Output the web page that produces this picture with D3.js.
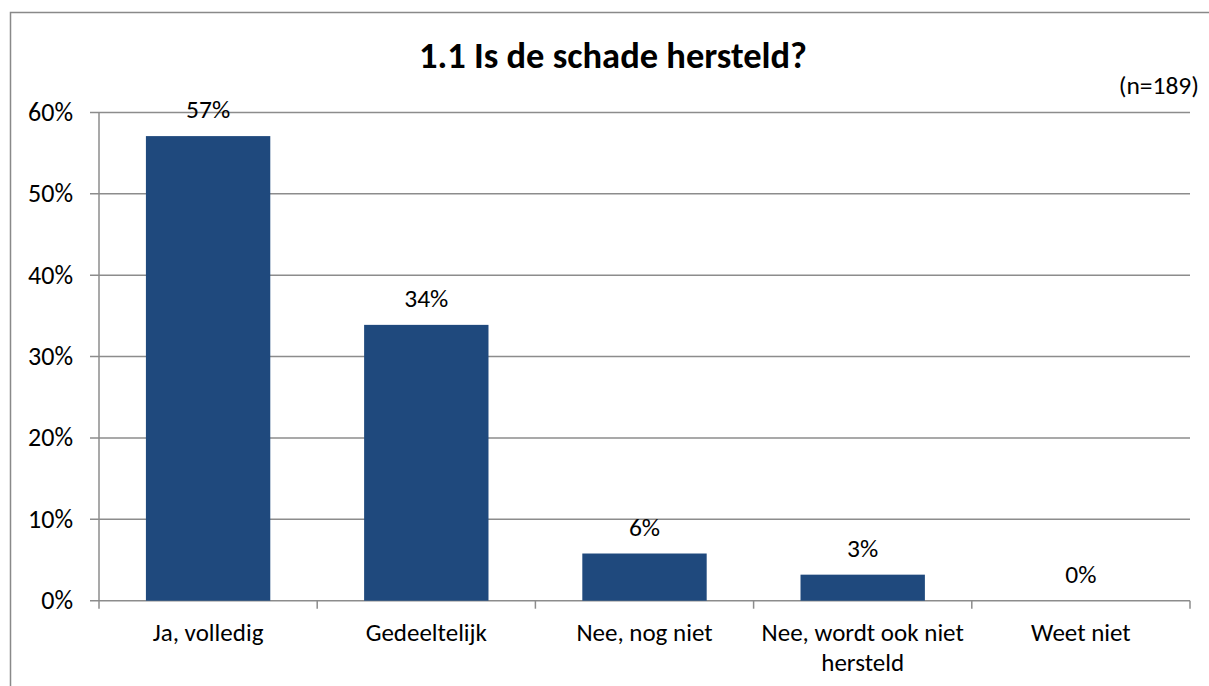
<!DOCTYPE html>
<html>
<head>
<meta charset="utf-8">
<script src="https://cdn.jsdelivr.net/npm/d3@7"></script>
<style>
  body { margin: 0; background: #fff; }
  text { font-family: Calibri, Carlito, 'Liberation Sans', Arial, sans-serif; fill: #000; }
</style>
</head>
<body>
<div id="viz"></div>
<script>
// data
const categories = ['Ja, volledig', 'Gedeeltelijk', 'Nee, nog niet', 'Nee, wordt ook niet hersteld', 'Weet niet']
const values = [57.1, 33.9, 5.8, 3.2, 0]
const labels = ['57%', '34%', '6%', '3%', '0%']
const yTicks = [0, 10, 20, 30, 40, 50, 60]

const chartTitle = '1.1 Is de schade hersteld?'
const note = '(n=189)'

let width = 1209,
    height = 686

let margin = { top: 112.5, right: 19, bottom: 85.3, left: 99 }

let svg = d3.select('#viz')
            .append('svg')
            .attr('width', width)
            .attr('height', height)

// outer chart border (left + top visible)
svg.append('path')
   .attr('d', 'M10.5,' + height + ' V12.5 H' + width)
   .style('fill', 'none')
   .style('stroke', '#898989')
   .style('stroke-width', 1.5)

let yScale = d3.scaleLinear()
               .domain([0, 60])
               .range([height - margin.bottom, margin.top])

let xScale = d3.scaleBand()
               .domain(categories)
               .range([margin.left, width - margin.right])
               .paddingInner(0.43)
               .paddingOuter(0.215)

// gridlines
svg.append('g')
   .selectAll('line')
   .data(yTicks)
   .enter()
     .append('line')
     .attr('x1', margin.left - 9)
     .attr('x2', width - margin.right)
     .attr('y1', d => yScale(d))
     .attr('y2', d => yScale(d))
     .style('stroke', '#8c8c8c')
     .style('stroke-width', 1.5)

// y axis line
svg.append('line')
   .attr('x1', margin.left)
   .attr('x2', margin.left)
   .attr('y1', yScale(60))
   .attr('y2', yScale(0))
   .style('stroke', '#8c8c8c')
   .style('stroke-width', 1.5)

// y tick labels
svg.append('g')
   .selectAll('text')
   .data(yTicks)
   .enter()
     .append('text')
     .attr('x', 73)
     .attr('y', d => yScale(d) + 8.5)
     .attr('text-anchor', 'end')
     .style('font-size', '26px')
     .text(d => d + '%')

// x category ticks
let edges = d3.range(categories.length + 1).map(i => margin.left + i * (width - margin.right - margin.left) / categories.length)
svg.append('g')
   .selectAll('line')
   .data(edges)
   .enter()
     .append('line')
     .attr('x1', d => d)
     .attr('x2', d => d)
     .attr('y1', yScale(0))
     .attr('y2', yScale(0) + 8)
     .style('stroke', '#8c8c8c')
     .style('stroke-width', 1.5)

// bars
svg.append('g')
   .selectAll('rect')
   .data(values)
   .enter()
     .append('rect')
     .attr('x', (d, i) => xScale(categories[i]))
     .attr('width', xScale.bandwidth())
     .attr('y', d => yScale(d))
     .attr('height', d => yScale(0) - yScale(d))
     .style('fill', '#1f497d')

// value labels
svg.append('g')
   .selectAll('text')
   .data(values)
   .enter()
     .append('text')
     .attr('x', (d, i) => xScale(categories[i]) + xScale.bandwidth() / 2)
     .attr('y', d => yScale(d) - 18)
     .attr('text-anchor', 'middle')
     .style('font-size', '25.5px')
     .text((d, i) => labels[i])

// category labels, wrapped
let catWrap = {
  'Nee, wordt ook niet hersteld': ['Nee, wordt ook niet', 'hersteld']
}
let catText = svg.append('g')
   .selectAll('text')
   .data(categories)
   .enter()
     .append('text')
     .attr('x', d => xScale(d) + xScale.bandwidth() / 2)
     .attr('y', yScale(0) + 40)
     .attr('text-anchor', 'middle')
     .style('font-size', '25px')

catText.each(function(d) {
  let lines = catWrap[d] || [d]
  let t = d3.select(this)
  lines.forEach((l, i) => {
    t.append('tspan')
     .attr('x', xScale(d) + xScale.bandwidth() / 2)
     .attr('dy', i === 0 ? 0 : 30)
     .text(l)
  })
})

// title
svg.append('text')
   .attr('x', 613)
   .attr('y', 68)
   .attr('text-anchor', 'middle')
   .style('font-size', '36.5px')
   .style('font-weight', 'bold')
   .text(chartTitle)

// n note
svg.append('text')
   .attr('x', 1199)
   .attr('y', 94)
   .attr('text-anchor', 'end')
   .style('font-size', '25.5px')
   .text(note)
</script>
</body>
</html>
